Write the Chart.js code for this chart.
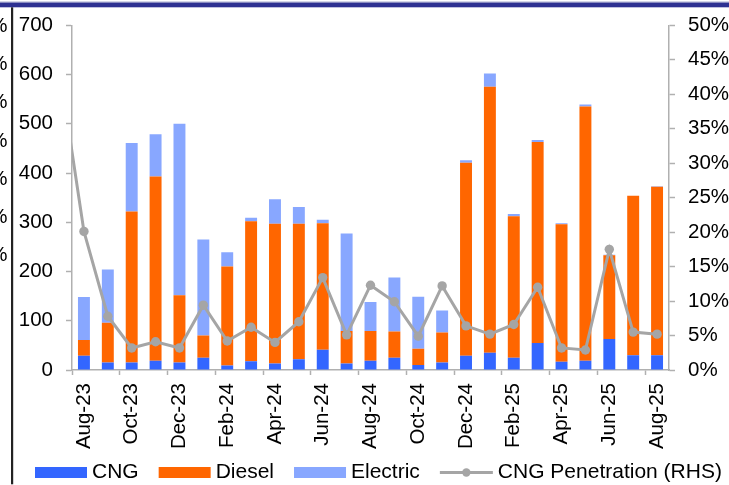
<!DOCTYPE html>
<html>
<head>
<meta charset="utf-8">
<script src="https://cdn.jsdelivr.net/npm/chart.js@4.4.1/dist/chart.umd.min.js"></script>
<style>
  html, body { margin: 0; padding: 0; background: #fff; overflow: hidden; }
  #wrap { position: relative; width: 729px; height: 485px; }
</style>
</head>
<body>
<div id="wrap"><canvas id="c"></canvas></div>
<script>
// Monthly volumes by fuel type (units) and CNG share of the month (RHS).
// Jul-23 sits just left of the visible window so the penetration line enters from the axis.
const months = ['Jul-23','Aug-23','Sep-23','Oct-23','Nov-23','Dec-23','Jan-24','Feb-24','Mar-24','Apr-24',
  'May-24','Jun-24','Jul-24','Aug-24','Sep-24','Oct-24','Nov-24','Dec-24','Jan-25','Feb-25',
  'Mar-25','Apr-25','May-25','Jun-25','Jul-25','Aug-25'];
const cng      = [null, 29, 15, 15, 19, 15, 25,  9, 18, 13, 22, 41, 13, 19, 25, 10, 15, 29, 35, 25, 55, 17, 19, 63, 30, 30];
const diesel   = [null, 32, 81,307,374,137, 45,201,284,284,275,257, 66, 60, 53, 33, 61,392,540,287,408,279,516,170,324,342];
const electric = [null, 87,108,139, 86,348,195, 29,  7, 50, 34,  7,198, 59,110,106, 45,  5, 27,  5,  4,  2,  4,  1,  0,  1];
const cngPenetration = [0.432,0.201,0.078,0.032,0.041,0.032,0.094,0.042,0.062,0.040,0.070,0.134,0.051,0.123,
  0.099,0.049,0.122,0.064,0.052,0.066,0.120,0.032,0.029,0.175,0.055,0.052];

const firstMonth = 'Aug-23';
const volumeMax = 700, volumeStep = 100;
const shareMax = 0.5, shareStep = 0.05;

const FONT = '"Liberation Sans", Arial, Helvetica, sans-serif';
const AXIS_GREY = '#b0b0b0';

// Page furniture: header band, left rule and the clipped neighbouring axis labels.
const framePlugin = {
  id: 'frame',
  afterDraw(chart) {
    const ctx = chart.ctx;
    ctx.save();
    ctx.fillStyle = '#c9cbe2';
    ctx.fillRect(0, 1.2, chart.width, 1.3);
    ctx.fillStyle = '#2e3192';
    ctx.fillRect(0, 2.5, chart.width, 4.8);
    ctx.fillStyle = '#222';
    ctx.fillRect(11, 7.3, 2.2, 477);
    ctx.fillStyle = '#000';
    ctx.font = '20.5px ' + FONT;
    ctx.textAlign = 'right';
    ctx.textBaseline = 'middle';
    for (let k = 0; k < 7; k++) ctx.fillText('%', 7.5, 26 + k * 38.3);
    ctx.restore();
  }
};

// Bottom legend, laid out in one row from the dataset labels and colours.
const legendPlugin = {
  id: 'rowLegend',
  afterDraw(chart) {
    const ctx = chart.ctx;
    ctx.save();
    ctx.font = '21px ' + FONT;
    ctx.textBaseline = 'middle';
    ctx.textAlign = 'left';
    const y = 472.5;
    let x = 35;
    chart.data.datasets.forEach(ds => {
      const w = ds.type === 'line' ? 53 : 52;
      if (ds.type === 'line') {
        ctx.strokeStyle = ds.borderColor;
        ctx.lineWidth = 3;
        ctx.beginPath(); ctx.moveTo(x, y); ctx.lineTo(x + w, y); ctx.stroke();
        ctx.fillStyle = ds.backgroundColor;
        ctx.beginPath(); ctx.arc(x + w / 2, y, 4.2, 0, Math.PI * 2); ctx.fill();
      } else {
        ctx.fillStyle = ds.backgroundColor;
        ctx.fillRect(x, y - 5.5, w, 11);
      }
      ctx.fillStyle = '#000';
      const tx = x + w + 5;
      ctx.fillText(ds.label, tx, y);
      x = tx + ctx.measureText(ds.label).width + 20;
    });
    ctx.restore();
  }
};

new Chart(document.getElementById('c'), {
  type: 'bar',
  data: {
    labels: months,
    datasets: [
      { type: 'bar', label: 'CNG', data: cng, backgroundColor: '#3366ff', yAxisID: 'y', order: 2 },
      { type: 'bar', label: 'Diesel', data: diesel, backgroundColor: '#ff6600', yAxisID: 'y', order: 2 },
      { type: 'bar', label: 'Electric', data: electric, backgroundColor: '#88a7ff', yAxisID: 'y', order: 2 },
      { type: 'line', label: 'CNG Penetration (RHS)', data: cngPenetration, yAxisID: 'y1', order: 0,
        borderColor: '#a5a5a5', backgroundColor: '#a5a5a5', borderWidth: 3, tension: 0,
        pointRadius: 4.7, pointBorderWidth: 0, pointHoverRadius: 4.7 }
    ]
  },
  options: {
    responsive: true,
    maintainAspectRatio: false,
    animation: false,
    events: [],
    layout: { padding: { top: 24, left: 0, right: 0, bottom: 0 } },
    datasets: { bar: { barPercentage: 0.5, categoryPercentage: 1 } },
    plugins: { legend: { display: false }, tooltip: { enabled: false } },
    scales: {
      x: {
        stacked: true,
        min: firstMonth,
        offset: true,
        grid: {
          offset: true, drawOnChartArea: false, drawTicks: true, tickLength: 5, tickWidth: 1.5,
          tickColor: c => (c.index % 2 === 0 ? AXIS_GREY : 'rgba(0,0,0,0)')
        },
        border: { display: true, color: AXIS_GREY, width: 1.5 },
        ticks: {
          autoSkip: false, maxRotation: 90, minRotation: 90, padding: 8, color: '#000',
          font: { family: FONT, size: 20.5 },
          callback: function (v, i) { return i % 2 === 0 ? this.getLabelForValue(v) : ''; }
        },
        afterFit: s => { s.height = 115; }
      },
      y: {
        stacked: true,
        position: 'left',
        min: 0, max: volumeMax,
        grid: { drawOnChartArea: false, tickLength: 6, color: AXIS_GREY, tickWidth: 1.5 },
        border: { display: true, color: AXIS_GREY, width: 1.5 },
        ticks: { stepSize: volumeStep, padding: 13, color: '#000', font: { family: FONT, size: 20.5 } },
        afterFit: s => { s.width = 72; }
      },
      y1: {
        position: 'right',
        min: 0, max: shareMax,
        grid: { drawOnChartArea: false, tickLength: 6, color: AXIS_GREY, tickWidth: 1.5 },
        border: { display: true, color: AXIS_GREY, width: 1.5 },
        ticks: {
          stepSize: shareStep, padding: 13, color: '#000', font: { family: FONT, size: 20.5 },
          callback: v => Math.round(v * 100) + '%'
        },
        afterFit: s => { s.width = 60; }
      }
    }
  },
  plugins: [framePlugin, legendPlugin]
});
</script>
</body>
</html>
